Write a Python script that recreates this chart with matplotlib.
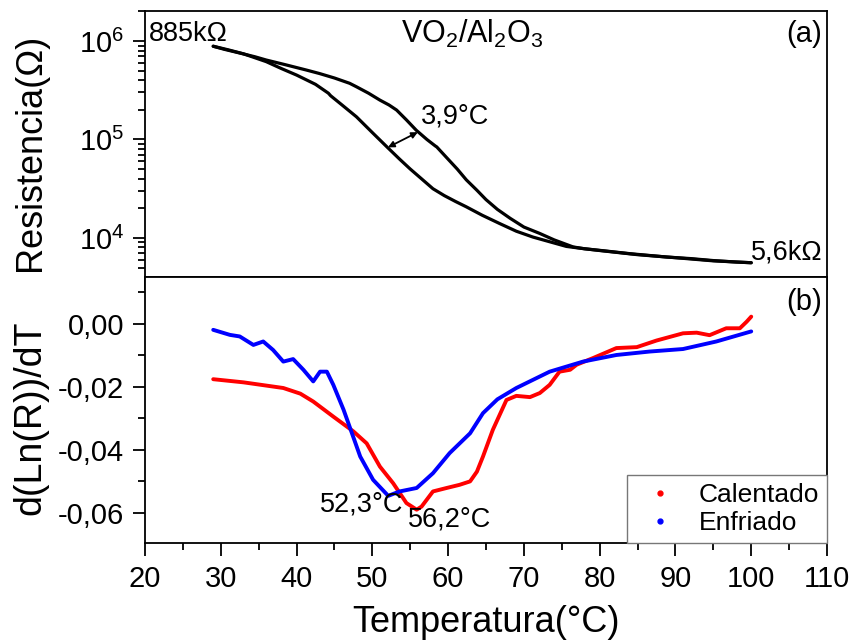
import numpy as np
import matplotlib
matplotlib.use("Agg")
import matplotlib.pyplot as plt
from matplotlib.ticker import MultipleLocator, LogLocator, NullFormatter, FuncFormatter
from matplotlib.lines import Line2D

plt.rcParams["font.family"] = ["Liberation Sans", "DejaVu Sans"]
plt.rcParams["mathtext.default"] = "regular"

# (a) Resistance loop of the VO2/Al2O3 film: temperature (°C) and resistance (kΩ)
t_heat = [29.0, 30.5, 32.5, 34.5, 36.0, 38.5, 41.3, 43.0, 45.0, 47.0, 47.9, 49.5,
          51.0, 52.2, 53.2, 54.5, 55.8, 57.2, 58.3, 58.5, 60.0, 61.2, 62.4,
          63.8, 65.0, 66.5, 68.2, 70.0, 72.1, 74.0, 76.5, 78.0, 80.0, 84.0, 88.8,
          92.0, 95.0, 98.0, 100.0]
r_heat = [885, 822, 755, 692, 641, 575, 507, 468, 421, 372, 343, 295,
          251, 224, 199, 158, 124, 100, 86, 84, 63, 50.1, 38.9,
          30.5, 24.5, 19.5, 15.8, 12.9, 11.1, 9.55, 8.1, 7.76, 7.48, 6.92, 6.40,
          6.17, 5.89, 5.69, 5.60]

t_cool = [29.0, 31.0, 33.0, 36.0, 38.0, 40.0, 42.5, 44.2, 44.5, 46.0, 47.9, 50.0,
          52.0, 53.6, 55.0, 56.5, 58.0, 59.5, 61.0, 62.4, 64.5, 66.8, 69.0, 71.2,
          73.5, 75.6, 77.5, 80.0, 85.0, 90.0, 95.0, 100.0]
r_cool = [885, 813, 741, 617, 525, 451, 363, 295, 278, 224, 170, 117.5,
          83, 63.1, 50.1, 39.8, 31.6, 26.9, 23.4, 20.7, 17.0, 14.0, 11.7, 10.2,
          9.1, 8.2, 7.85, 7.45, 6.76, 6.30, 5.85, 5.60]

# (b) Derivative d(ln R)/dT for heating and cooling
t_dh = [29.0, 33.0, 38.25, 40.5, 42.2, 44.85, 47.5, 49.25, 51.0, 52.75, 54.5,
        55.85, 56.5, 58.0, 59.8, 61.5, 62.9, 63.8, 64.6, 65.9, 67.7, 69.0, 70.8,
        72.1, 73.4, 74.7, 76.1, 76.95, 79.1, 82.2, 84.9, 87.5, 91.0, 92.8, 94.5,
        96.7, 98.5, 99.4, 100.0]
d_heat = [-0.0176, -0.0186, -0.0204, -0.0222, -0.0247, -0.0295, -0.0342, -0.0380,
          -0.0454, -0.0507, -0.0570, -0.0591, -0.0581, -0.0533, -0.0522, -0.0512,
          -0.0501, -0.0470, -0.0422, -0.0337, -0.0242, -0.0229, -0.0233, -0.0220,
          -0.0194, -0.0152, -0.0146, -0.0130, -0.0109, -0.0077, -0.0074, -0.0053,
          -0.0030, -0.0028, -0.0036, -0.0014, -0.0014, 0.0007, 0.0023]

t_dc = [29.0, 31.2, 32.5, 34.3, 35.6, 36.9, 38.25, 39.55, 40.9, 42.2, 43.1, 44.0,
        44.85, 46.2, 47.0, 48.4, 50.1, 52.1, 53.6, 55.85, 58.0, 60.2, 62.9, 64.6,
        66.5, 69.0, 73.4, 77.8, 82.2, 86.6, 91.0, 95.4, 100.0]
d_cool = [-0.0019, -0.0035, -0.0040, -0.0067, -0.0056, -0.0083, -0.0120, -0.0112,
          -0.0146, -0.0183, -0.0152, -0.0152, -0.0194, -0.0273, -0.0327, -0.0422,
          -0.0496, -0.0547, -0.0533, -0.0522, -0.0475, -0.0411, -0.0348, -0.0284,
          -0.0240, -0.0204, -0.0152, -0.0120, -0.0099, -0.0088, -0.0080, -0.0056,
          -0.0024]

x_ticks = list(range(20, 111, 10))
d_ticks = [-0.06, -0.04, -0.02, 0.00]
legend_labels = ["Calentado", "Enfriado"]

TICK_FS = 21
ANN_FS = 19.5
LABEL_FS = 26

fig = plt.figure(figsize=(8.54, 6.42), dpi=100)
ax1 = fig.add_axes([0.1698, 0.5685, 0.7986, 0.4144])
ax2 = fig.add_axes([0.1698, 0.1542, 0.7986, 0.4143], sharex=ax1)

for ax in (ax1, ax2):
    for s in ax.spines.values():
        s.set_linewidth(1.3)
    ax.tick_params(which="both", direction="out", top=False, right=False,
                   width=1.3, labelsize=TICK_FS, pad=6)
    ax.tick_params(which="major", length=9)
    ax.tick_params(which="minor", length=5)

# --- (a) resistance ---
ax1.set_yscale("log")
ax1.plot(t_heat, np.array(r_heat) * 1e3, color="black", lw=2.3,
         solid_joinstyle="round", solid_capstyle="round")
ax1.plot(t_cool, np.array(r_cool) * 1e3, color="black", lw=2.3,
         solid_joinstyle="round", solid_capstyle="round")
ax1.set_ylim(10 ** 3.603, 10 ** 6.305)
ax1.yaxis.set_major_locator(LogLocator(base=10, numticks=10))
ax1.yaxis.set_minor_locator(LogLocator(base=10, subs=np.arange(2, 10), numticks=20))
ax1.yaxis.set_minor_formatter(NullFormatter())
ax1.tick_params(axis="x", labelbottom=False)

ax1.text(20.5, r_heat[0] * 1e3 * 1.12, "885k\u03a9", fontsize=ANN_FS, ha="left",
         va="baseline")
ax1.text(99.9, r_heat[-1] * 1e3 * 1.08, "5,6k\u03a9", fontsize=ANN_FS, ha="left",
         va="baseline")
ax1.text(0.48, 0.915, r"VO$_2$/Al$_2$O$_3$", transform=ax1.transAxes, fontsize=22,
         ha="center", va="center")
ax1.text(0.992, 0.915, "(a)", transform=ax1.transAxes, fontsize=21, ha="right",
         va="center")
ax1.annotate("", xy=(52.06, 10 ** 4.92), xytext=(56.0, 10 ** 5.074),
             arrowprops=dict(arrowstyle="<|-|>", lw=1.3, color="black",
                             mutation_scale=9, shrinkA=0, shrinkB=0))
ax1.text(56.4, 10 ** 5.16, "3,9\u00b0C", fontsize=ANN_FS, ha="left", va="baseline")

# --- (b) derivative ---
ax2.plot(t_dh, d_heat, color="#ff0000", lw=2.8, solid_joinstyle="round",
         solid_capstyle="round")
ax2.plot(t_dc, d_cool, color="#0000ff", lw=2.8, solid_joinstyle="round",
         solid_capstyle="round")
ax2.set_ylim(-0.0697, 0.0149)
ax2.set_xlim(20, 110)
ax2.set_xticks(x_ticks)
ax2.xaxis.set_minor_locator(MultipleLocator(5))
ax2.set_yticks(d_ticks)
ax2.yaxis.set_minor_locator(MultipleLocator(0.01))
ax2.yaxis.set_major_formatter(FuncFormatter(lambda v, p: f"{v:.2f}".replace(".", ",")
                                            .replace("-0,00", "0,00")))
ax2.tick_params(axis="x", pad=7)

ax2.text(43.1, -0.0575, "52,3\u00b0C", fontsize=ANN_FS, ha="left", va="center")
ax2.text(54.7, -0.0623, "56,2\u00b0C", fontsize=ANN_FS, ha="left", va="center")
ax2.text(0.992, 0.905, "(b)", transform=ax2.transAxes, fontsize=21, ha="right",
         va="center")

handles = [Line2D([], [], ls="none", marker="o", ms=3.5, color="#ff0000"),
           Line2D([], [], ls="none", marker="o", ms=3.5, color="#0000ff")]
leg = ax2.legend(handles, legend_labels, loc="lower right", bbox_to_anchor=(1.0, 0.0),
                 borderaxespad=0, fontsize=19, frameon=True, fancybox=False,
                 framealpha=1, edgecolor="#777777", handlelength=1.9,
                 handletextpad=0.5, labelspacing=0.15, borderpad=0.3)
leg.get_frame().set_linewidth(1.0)

fig.text(0.036, 0.763, "Resistencia(\u03a9)", rotation=90, fontsize=LABEL_FS,
         ha="center", va="center")
fig.text(0.036, 0.349, "d(Ln(R))/dT", rotation=90, fontsize=27,
         ha="center", va="center")
fig.text(0.569, 0.031, "Temperatura(\u00b0C)", fontsize=LABEL_FS, ha="center",
         va="center")

fig.savefig("out.png", dpi=100)
